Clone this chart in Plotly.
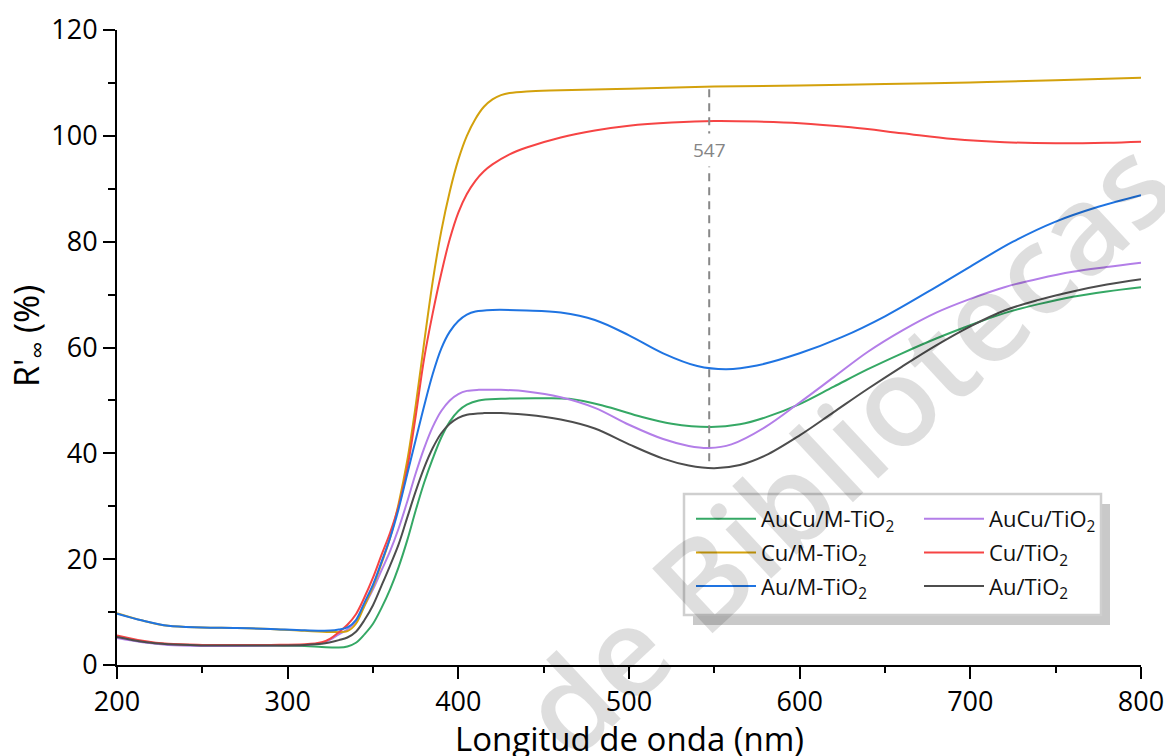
import plotly.graph_objects as go

# ---------------- data ----------------
wl_cum = [200, 215, 230, 250, 270, 290, 310, 325, 335, 340, 345, 350, 355, 360, 365, 370, 375, 380,
          385, 390, 395, 400, 405, 410, 415, 420, 425, 430, 440, 460, 500, 550, 600, 650, 700, 750, 800]
cu_m = [9.8, 8.4, 7.4, 7.1, 7.0, 6.8, 6.45, 6.25, 6.4, 7.8, 11.2, 14.8, 19.2, 24.0, 30.5, 38.5, 49.0, 61.0,
        72.5, 82.0, 89.5, 95.5, 100.0, 103.2, 105.5, 106.9, 107.7, 108.1, 108.4, 108.6, 108.9, 109.3, 109.5,
        109.8, 110.1, 110.5, 111.0]

wl_cu = [200, 215, 230, 250, 270, 290, 310, 320, 325, 330, 335, 340, 345, 350, 355, 360, 365, 370, 375,
         380, 385, 390, 395, 400, 405, 410, 415, 420, 430, 440, 460, 480, 500, 525, 550, 575, 600, 630,
         660, 690, 720, 750, 780, 800]
cu = [5.6, 4.6, 4.0, 3.8, 3.8, 3.8, 3.9, 4.3, 5.0, 6.2, 7.6, 9.6, 12.8, 16.5, 20.8, 25.0, 30.0, 37.0, 47.0,
      58.0, 66.5, 74.0, 80.5, 85.5, 89.0, 91.5, 93.3, 94.6, 96.5, 97.8, 99.7, 101.0, 101.9, 102.5, 102.8,
      102.7, 102.4, 101.6, 100.5, 99.4, 98.8, 98.6, 98.7, 98.9]

wl_aum = [200, 215, 230, 250, 270, 290, 310, 325, 330, 335, 340, 345, 350, 355, 360, 365, 370, 375, 380,
          385, 390, 395, 400, 405, 410, 420, 440, 460, 480, 500, 520, 540, 557, 575, 600, 625, 650, 675,
          700, 725, 750, 775, 800]
au_m = [9.7, 8.4, 7.4, 7.1, 7.0, 6.8, 6.55, 6.5, 6.7, 7.1, 8.5, 11.8, 15.2, 19.5, 24.0, 29.5, 36.0, 42.5,
        49.0, 55.0, 59.8, 63.0, 65.0, 66.2, 66.8, 67.1, 67.0, 66.6, 65.2, 62.3, 58.9, 56.5, 55.9, 56.6, 58.9,
        62.0, 65.9, 70.5, 75.3, 80.0, 83.8, 86.6, 88.8]

wl_aucu = [200, 215, 230, 250, 270, 290, 310, 320, 325, 330, 335, 340, 345, 350, 355, 360, 365, 370, 375,
           380, 385, 390, 395, 400, 405, 412, 425, 440, 460, 480, 500, 520, 535, 547, 560, 580, 600, 620,
           640, 660, 680, 700, 720, 740, 760, 780, 800]
aucu = [5.1, 4.3, 3.8, 3.6, 3.6, 3.7, 3.8, 4.2, 4.8, 5.8, 6.7, 8.3, 11.2, 14.3, 17.9, 21.5, 25.8, 30.8,
        36.2, 41.0, 45.0, 48.0, 50.0, 51.2, 51.8, 52.0, 52.0, 51.7, 50.6, 48.6, 45.4, 42.7, 41.4, 41.0, 41.7,
        45.0, 49.6, 54.4, 59.2, 63.2, 66.6, 69.2, 71.4, 73.0, 74.3, 75.2, 76.0]

wl_aucum = [200, 215, 230, 250, 270, 290, 310, 320, 330, 335, 340, 345, 350, 355, 360, 365, 370, 375,
            380, 385, 390, 395, 400, 405, 412, 425, 445, 465, 485, 505, 525, 548, 565, 580, 600, 620, 640,
            660, 680, 700, 720, 740, 760, 780, 800]
aucu_m = [5.3, 4.4, 3.9, 3.7, 3.7, 3.7, 3.6, 3.4, 3.3, 3.5, 4.2, 5.8, 7.8, 10.8, 14.3, 18.5, 23.5, 29.2,
          34.5, 39.0, 43.0, 46.0, 48.0, 49.2, 50.0, 50.3, 50.4, 50.3, 49.0, 47.1, 45.6, 45.0, 45.5, 46.8,
          49.3, 52.6, 55.9, 58.9, 61.7, 64.2, 66.5, 68.2, 69.6, 70.6, 71.4]

wl_au = [200, 215, 230, 250, 270, 290, 310, 320, 325, 330, 335, 340, 345, 350, 355, 360, 365, 370, 375,
         380, 385, 390, 395, 400, 405, 415, 425, 440, 460, 480, 500, 520, 535, 550, 565, 580, 600, 620,
         640, 660, 680, 700, 720, 740, 760, 780, 800]
au = [5.3, 4.4, 3.9, 3.7, 3.7, 3.7, 3.8, 4.0, 4.3, 4.7, 5.2, 6.3, 8.5, 11.3, 15.0, 18.8, 22.8, 27.8, 32.8,
      37.3, 41.0, 43.8, 45.6, 46.7, 47.3, 47.6, 47.6, 47.3, 46.4, 44.7, 41.7, 39.0, 37.7, 37.2, 37.8, 39.6,
      43.4, 47.8, 52.2, 56.4, 60.4, 64.0, 67.0, 69.0, 70.6, 71.9, 72.9]

marker_wl = 547
marker_label = "547"
x_title = "Longitud de onda (nm)"
y_title = "R'<sub>∞</sub> (%)"

series = [
    ("AuCu/M-TiO<sub>2</sub>", wl_aucum, aucu_m, "#35a865", "legend"),
    ("AuCu/TiO<sub>2</sub>", wl_aucu, aucu, "#b37ee8", "legend2"),
    ("Cu/M-TiO<sub>2</sub>", wl_cum, cu_m, "#d3a10c", "legend"),
    ("Cu/TiO<sub>2</sub>", wl_cu, cu, "#f64444", "legend2"),
    ("Au/M-TiO<sub>2</sub>", wl_aum, au_m, "#1f74e2", "legend"),
    ("Au/TiO<sub>2</sub>", wl_au, au, "#4d4d4d", "legend2"),
]

FONT = "Open Sans"

fig = go.Figure()
for i, (name, x, y, color, lg) in enumerate(series):
    fig.add_trace(go.Scatter(x=x, y=y, mode="lines", name=name, legend=lg, legendgroup=f"g{i}",
                             line=dict(color=color, width=2, shape="spline", smoothing=1.0)))

W, H = 1165, 756
ml, mr, mt, mb = 117, 24, 30, 91
pw, ph = W - ml - mr, H - mt - mb


def px(xp):
    return (xp - ml) / pw


def py(yp):
    return (H - mb - yp) / ph


legend_common = dict(bgcolor="rgba(0,0,0,0)", borderwidth=0, font=dict(family=FONT, size=22, color="#111"),
                     xanchor="left", yanchor="top", orientation="v", tracegroupgap=2, itemwidth=60)

fig.update_layout(
    width=W, height=H,
    margin=dict(l=ml, r=mr, t=mt, b=mb, autoexpand=False),
    paper_bgcolor="white", plot_bgcolor="white",
    font=dict(family=FONT, color="black"),
    legend=dict(x=px(691), y=py(498), **legend_common),
    legend2=dict(x=px(919), y=py(498), **legend_common),
    xaxis=dict(range=[200, 800], showgrid=False, zeroline=False, showline=True, linecolor="black",
               linewidth=2, ticks="outside", ticklen=12, tickwidth=2, tickcolor="black", automargin=False,
               tick0=200, dtick=100, tickfont=dict(family=FONT, size=27, color="black"),
               minor=dict(ticks="outside", ticklen=6, tickwidth=2, tickcolor="black", dtick=50)),
    yaxis=dict(range=[0, 120], showgrid=False, zeroline=False, showline=True, linecolor="black",
               linewidth=2, ticks="outside", ticklen=12, tickwidth=2, tickcolor="black", automargin=False,
               tick0=0, dtick=20, tickfont=dict(family=FONT, size=27, color="black"),
               minor=dict(ticks="outside", ticklen=7, tickwidth=2, tickcolor="black", dtick=10)),
)

# axis titles
fig.add_annotation(x=0.5, y=py(714), xref="paper", yref="paper", text=x_title, showarrow=False,
                   xanchor="center", yanchor="top", font=dict(family=FONT, size=33, color="black"))
fig.add_annotation(x=px(28), y=py(336), xref="paper", yref="paper", text=y_title, showarrow=False,
                   textangle=-90, xanchor="center", yanchor="middle",
                   font=dict(family=FONT, size=34, color="black"))

# legend frame with shadow
fig.add_shape(type="rect", xref="paper", yref="paper", x0=px(693), x1=px(1110), y0=py(625), y1=py(504),
              fillcolor="#c9c9c9", line=dict(width=0), layer="below")
fig.add_shape(type="rect", xref="paper", yref="paper", x0=px(684), x1=px(1101), y0=py(615), y1=py(494),
              fillcolor="white", line=dict(color="#cfcfcf", width=2.5), layer="below")

# dashed marker line
fig.add_shape(type="line", xref="x", yref="y", x0=marker_wl, x1=marker_wl, y0=38.5, y1=109.3,
              line=dict(color="#888888", width=2, dash="8px,6px"), layer="above")
fig.add_annotation(x=marker_wl, y=97.3, xref="x", yref="y", text=marker_label, showarrow=False,
                   font=dict(family=FONT, size=19, color="#858585"), bgcolor="white", borderpad=3)

# watermark
fig.add_annotation(x=px(844), y=py(445), xref="paper", yref="paper", text="de Bibliotecas",
                   xanchor="center", yanchor="middle", showarrow=False, textangle=-43,
                   font=dict(family=FONT, size=124, weight=600, color="rgba(0,0,0,0.13)"))

fig.write_html("out.html")
